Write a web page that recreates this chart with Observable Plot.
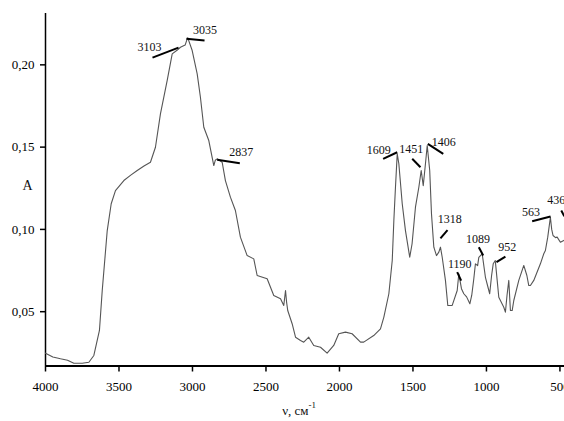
<!DOCTYPE html>
<html>
<head>
<meta charset="utf-8">
<script src="https://cdn.jsdelivr.net/npm/d3@7"></script>
<script src="https://cdn.jsdelivr.net/npm/@observablehq/plot@0.6"></script>
<style>
  html, body { margin: 0; padding: 0; background: #fff; }
  #chart svg { display: block; }
</style>
</head>
<body>
<div id="chart"></div>
<script>
// IR spectrum: wavenumber (cm^-1) and absorbance (A)
const wavenumber = [4000,3950,3898,3850,3807,3750,3705,3671,3633,3614,3580,3553,3524,3467,3420,3376,3330,3286,3252,3218,3172,3138,3103,3082,3050,3036,3032,3002,2968,2946,2923,2889,2855,2845,2832,2798,2776,2742,2708,2674,2628,2583,2560,2492,2447,2401,2379,2367,2360,2352,2322,2299,2265,2243,2209,2175,2129,2084,2039,2005,1959,1914,1857,1835,1767,1721,1698,1664,1641,1630,1619,1607,1596,1573,1551,1522,1506,1483,1460,1444,1430,1415,1403,1386,1374,1358,1340,1324,1313,1301,1279,1263,1233,1199,1188,1170,1154,1135,1113,1100,1086,1075,1060,1052,1029,1007,990,978,965,954,940,927,916,905,882,871,860,848,837,825,814,780,746,725,712,701,678,633,610,599,583,565,556,547,530,519,497,474];
const absorbance = [0.0248,0.0225,0.0214,0.0205,0.0187,0.0187,0.0193,0.0234,0.0386,0.0629,0.0993,0.1156,0.1236,0.1297,0.1330,0.1358,0.1385,0.1408,0.1499,0.1702,0.1905,0.2067,0.2090,0.2107,0.2120,0.2158,0.2164,0.2087,0.1945,0.1803,0.1621,0.1540,0.1388,0.1420,0.1429,0.1408,0.1297,0.1196,0.1115,0.0953,0.0841,0.0821,0.0720,0.0700,0.0598,0.0578,0.0538,0.0629,0.0560,0.0507,0.0427,0.0345,0.0325,0.0315,0.0345,0.0295,0.0284,0.0248,0.0295,0.0366,0.0376,0.0366,0.0315,0.0315,0.0355,0.0396,0.0467,0.0609,0.0811,0.1054,0.1256,0.1459,0.1399,0.1156,0.0993,0.0831,0.0913,0.1135,0.1256,0.1358,0.1266,0.1399,0.1510,0.1358,0.1095,0.0892,0.0841,0.0862,0.0892,0.0831,0.0690,0.0538,0.0538,0.0629,0.0730,0.0640,0.0609,0.0590,0.0548,0.0600,0.0700,0.0791,0.0780,0.0830,0.0852,0.0709,0.0650,0.0609,0.0720,0.0791,0.0811,0.0690,0.0588,0.0568,0.0527,0.0497,0.0600,0.0690,0.0507,0.0507,0.0568,0.0690,0.0781,0.0720,0.0659,0.0659,0.0690,0.0791,0.0852,0.0872,0.0953,0.1074,0.1000,0.0963,0.0950,0.0953,0.0922,0.0933];

// Axis ticks
const xTicks = [4000,3500,3000,2500,2000,1500,1000,500];
const yTicks = [0.05,0.10,0.15,0.20];

// Peak annotations (label text, label anchor, leader line ends in data units)
const peakLabels = ["3103","3035","2837","1609","1451","1406","1318","1190","1089","952","563","436"];
const labelWn    = [3292,2914,2669,1732,1511,1290,1250,1182,1058,859,697,525];
const labelAbs   = [0.2107,0.2208,0.1469,0.1479,0.1490,0.1530,0.1060,0.0791,0.0943,0.0892,0.1105,0.1176];
const leadWn1    = [3272,3041,2832,1703,1505,1399,1265,1199,1052,932,689,491];
const leadAbs1   = [0.2044,0.2158,0.1423,0.1429,0.1429,0.1520,0.0996,0.0740,0.0892,0.0801,0.1050,0.1115];
const leadWn2    = [3095,2918,2678,1607,1449,1294,1313,1172,1022,871,564,470];
const leadAbs2   = [0.2105,0.2148,0.1402,0.1469,0.1378,0.1459,0.0945,0.0689,0.0842,0.0835,0.1078,0.1080];

const spectrum = wavenumber.map((w, i) => ({w, a: absorbance[i]}));
const labels = peakLabels.map((t, i) => ({t, w: labelWn[i], a: labelAbs[i]}));
const leaders = peakLabels.map((t, i) => ({x1: leadWn1[i], y1: leadAbs1[i], x2: leadWn2[i], y2: leadAbs2[i]}));

const yMin = 0.017, yMax = 0.2312;
const font = "'Liberation Serif', 'Times New Roman', serif";

const chart = Plot.plot({
  width: 564,
  height: 421,
  marginLeft: 45,
  marginRight: 0,
  marginTop: 13,
  marginBottom: 55.5,
  style: {fontFamily: font, fontSize: "13px", background: "#fff", color: "#000", overflow: "visible"},
  x: {domain: [4000, 469]},
  y: {domain: [yMin, yMax]},
  marks: [
    Plot.axisX({ticks: xTicks, tickFormat: d => String(d), tickSize: 6, tickPadding: 10, strokeWidth: 1.5, label: null, fontSize: 13}),
    Plot.axisY({ticks: yTicks, tickFormat: d => d.toFixed(2).replace(".", ","), tickSize: 5, tickPadding: 6, strokeWidth: 1.5, label: null, fontSize: 13}),
    Plot.ruleY([yMin], {stroke: "#000", strokeWidth: 1.8}),
    Plot.ruleX([4000], {stroke: "#000", strokeWidth: 1.5}),
    Plot.line(spectrum, {x: "w", y: "a", stroke: "#555", strokeWidth: 1.1, curve: "linear"}),
    Plot.link(leaders, {x1: "x1", y1: "y1", x2: "x2", y2: "y2", stroke: "#000", strokeWidth: 2}),
    Plot.text(labels, {x: "w", y: "a", text: "t", fontSize: 12, fill: "#111", textAnchor: d => d.t === "436" ? "start" : "middle"}),
    Plot.text(["A"], {frameAnchor: "left", y: [0.1267], dx: -23, fontSize: 14, fill: "#111"}),
    Plot.text(["ν, см"], {x: [2300], frameAnchor: "bottom", dy: 49, fontSize: 13, fill: "#111"}),
    Plot.text(["-1"], {x: [2185], frameAnchor: "bottom", dy: 42, fontSize: 9, fill: "#111"})
  ]
});
document.getElementById("chart").appendChild(chart);
</script>
</body>
</html>
